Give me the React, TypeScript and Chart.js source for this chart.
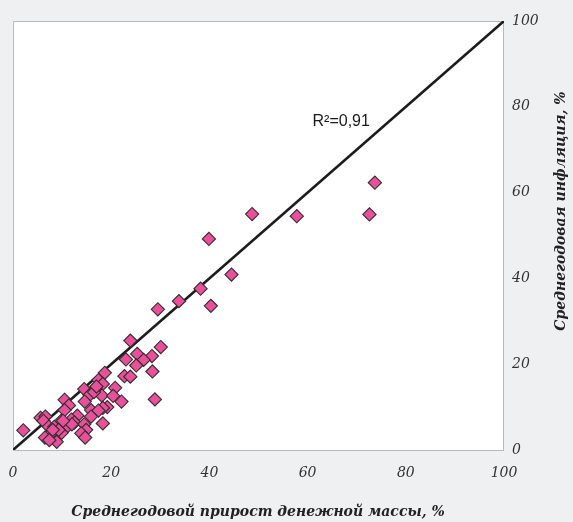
import React, { useEffect, useRef } from "react";
import { Chart, registerables } from "chart.js";

Chart.register(...registerables);

// Среднегодовой прирост денежной массы, % (x)
const moneyGrowth = [
  73.7, 72.6, 57.8, 48.7, 39.9, 44.5, 38.2, 40.3, 33.8, 29.5,
  23.9, 30.1, 25.3, 28.3, 23.0, 26.6, 25.1, 28.4, 18.7, 22.7,
  23.9, 17.4, 18.3, 20.8, 14.5, 16.8, 15.6, 18.1, 20.4, 22.1,
  28.9, 10.5, 14.6, 11.4, 19.2, 18.3, 10.5, 15.9, 17.4, 13.1,
  5.6, 6.6, 15.9, 11.9, 6.2, 9.8, 12.5, 18.3, 14.5, 7.3,
  8.4, 11.0, 2.1, 14.9, 9.9, 13.9, 7.5, 6.5, 14.7, 8.9,
  9.3, 16.5, 17.0, 12.0, 10.2, 8.1, 7.4,
];

// Среднегодовая инфляция, % (y)
const inflation = [
  62.3, 54.9, 54.5, 55.0, 49.2, 40.9, 37.6, 33.6, 34.7, 32.8,
  25.5, 24.0, 22.4, 21.9, 21.1, 21.0, 19.7, 18.3, 18.0, 17.2,
  17.1, 16.3, 15.4, 14.5, 14.2, 14.2, 12.8, 12.7, 12.6, 11.3,
  11.8, 11.7, 11.3, 10.4, 10.0, 9.8, 9.3, 9.3, 9.2, 8.0,
  7.5, 7.8, 7.8, 7.1, 6.8, 6.8, 6.4, 6.2, 6.0, 5.4,
  5.4, 5.4, 4.6, 4.7, 4.0, 3.9, 3.5, 2.9, 2.9, 1.9,
  4.7, 13.5, 14.8, 6.0, 6.8, 4.7, 2.3,
];

const fitLineX = [0, 100];
const fitLineY = [0, 100];
const axisMin = 0;
const axisMax = 100;
const axisStep = 20;

const r2Label = "R\u00B2=0,91";
const r2AnchorX = 61;
const r2AnchorY = 75.5;
const xTitle = "Среднегодовой прирост денежной массы, %";
const yTitle = "Среднегодовая инфляция, %";

export default function App() {
  const ref = useRef<HTMLCanvasElement>(null);

  useEffect(() => {
    const canvas = ref.current;
    if (!canvas) return;

    const points = moneyGrowth.map((x, i) => ({ x, y: inflation[i] }));
    const line = fitLineX.map((x, i) => ({ x, y: fitLineY[i] }));

    const decor = {
      id: "decor",
      beforeDatasetsDraw(chart: any) {
        const { ctx, chartArea: a } = chart;
        ctx.save();
        ctx.fillStyle = "#ffffff";
        ctx.fillRect(a.left, a.top, a.right - a.left, a.bottom - a.top);
        ctx.strokeStyle = "#b8babd";
        ctx.lineWidth = 1;
        ctx.strokeRect(a.left + 0.5, a.top + 0.5, a.right - a.left - 1, a.bottom - a.top);
        ctx.restore();
      },
      afterDraw(chart: any) {
        const { ctx, scales } = chart;
        ctx.save();
        // R² label
        ctx.fillStyle = "#1a1a1a";
        ctx.font = '16px "Liberation Sans", Arial, sans-serif';
        ctx.textAlign = "left";
        ctx.textBaseline = "alphabetic";
        ctx.fillText(r2Label, scales.x.getPixelForValue(r2AnchorX), scales.y.getPixelForValue(r2AnchorY));

        // x title
        ctx.fillStyle = "#222222";
        ctx.font = 'italic bold 14px "DejaVu Serif", serif';
        ctx.textAlign = "center";
        ctx.textBaseline = "middle";
        ctx.fillText(xTitle, 258, 512);

        // y title (reads bottom to top)
        ctx.translate(561, 211);
        ctx.rotate(-Math.PI / 2);
        ctx.fillText(yTitle, 0, 0);
        ctx.restore();
      },
    };

    const chart = new Chart(canvas, {
      type: "scatter",
      data: {
        datasets: [
          {
            type: "scatter",
            data: points,
            pointStyle: "rectRot",
            pointRadius: 6.6,
            pointHoverRadius: 6.6,
            backgroundColor: "#ea4f99",
            borderColor: "#2e2e2e",
            borderWidth: 1.1,
          },
          {
            type: "line",
            data: line,
            borderColor: "#1c1c1c",
            borderWidth: 2.6,
            pointRadius: 0,
            fill: false,
          } as any,
        ],
      },
      options: {
        responsive: false,
        animation: false,
        layout: { autoPadding: false, padding: { left: 13, top: 21, right: 0, bottom: 0 } },
        plugins: {
          legend: { display: false },
          tooltip: { enabled: false },
        },
        scales: {
          x: {
            type: "linear",
            position: "bottom",
            min: axisMin,
            max: axisMax,
            grid: { display: false, drawTicks: false },
            border: { display: false },
            ticks: {
              stepSize: axisStep,
              padding: 15,
              color: "#333333",
              font: { family: '"DejaVu Serif", serif', style: "italic", size: 14 },
              maxRotation: 0,
            },
            afterFit(scale: any) {
              scale.height = 72;
              scale.paddingLeft = 0;
              scale.paddingRight = 0;
            },
          },
          y: {
            type: "linear",
            position: "right",
            min: axisMin,
            max: axisMax,
            grid: { display: false, drawTicks: false },
            border: { display: false },
            ticks: {
              stepSize: axisStep,
              padding: 8,
              color: "#333333",
              font: { family: '"DejaVu Serif", serif', style: "italic", size: 14 },
            },
            afterFit(scale: any) {
              scale.width = 69;
              scale.paddingTop = 0;
              scale.paddingBottom = 0;
            },
          },
        },
      },
      plugins: [decor],
    });

    return () => chart.destroy();
  }, []);

  return (
    <div
      style={{
        position: "absolute",
        left: 0,
        top: 0,
        width: 573,
        height: 522,
        background: "#eff0f2",
      }}
    >
      <canvas ref={ref} width={573} height={522} style={{ display: "block" }} />
    </div>
  );
}
